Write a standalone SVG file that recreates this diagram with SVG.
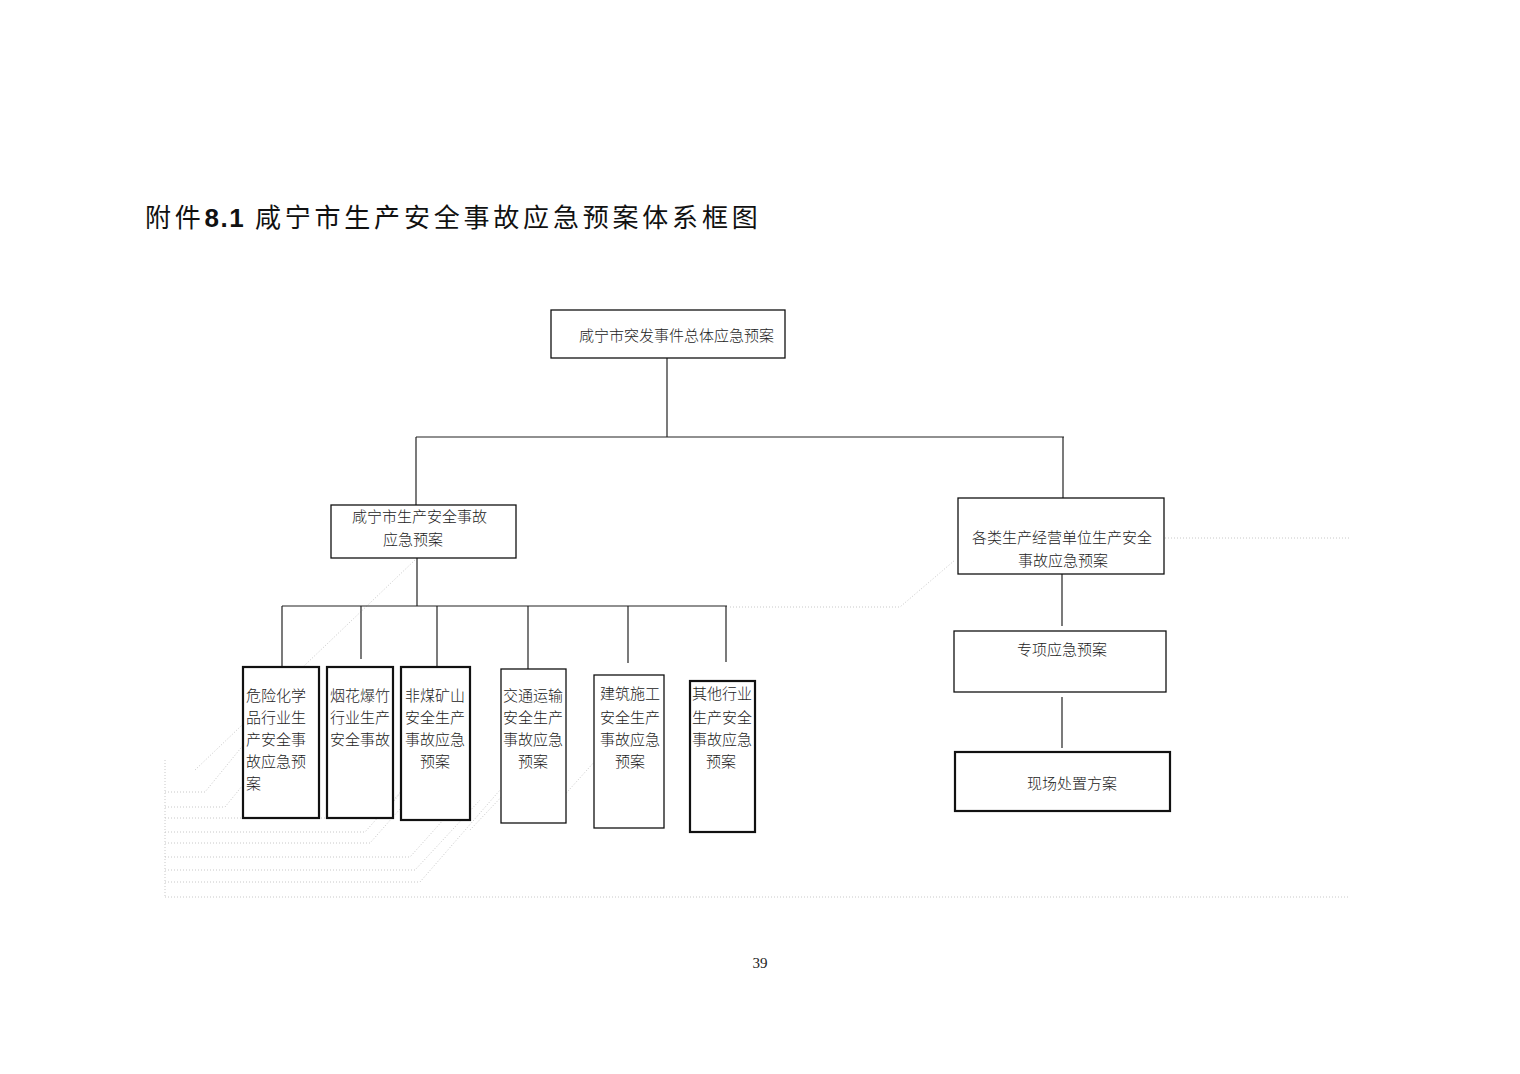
<svg xmlns="http://www.w3.org/2000/svg" width="1520" height="1074" viewBox="0 0 1520 1074">
<style>
  .bg { fill: #ffffff; }
  .box { fill: #ffffff; stroke: #111111; stroke-width: 1.3; }
  .boxb { fill: #ffffff; stroke: #111111; stroke-width: 2.2; }
  .conn { fill: none; stroke: #222222; stroke-width: 1.2; }
  .ghost { fill: none; stroke: #c8c8c8; stroke-width: 1; stroke-dasharray: 1 2; }
  .t { font-family: "Noto Sans CJK SC", "Liberation Serif", serif; font-size: 15px; font-weight: 300; fill: #222222; }
  .title { font-family: "Noto Sans CJK SC", "Liberation Sans", sans-serif; font-size: 26px; font-weight: 400; fill: #111111; letter-spacing: 3.8px; }
  .pg { font-family: "Liberation Serif", serif; font-size: 15px; fill: #222222; }
</style>
<rect class="bg" x="0" y="0" width="1520" height="1074"/>

<text class="title" x="145" y="227">附件<tspan font-family="Liberation Sans, sans-serif" font-weight="bold" letter-spacing="1.5">8.1</tspan> 咸宁市生产安全事故应急预案体系框图</text>

<g id="scan-artifacts">
  <polyline class="ghost" points="165,792 205,792 280,700"/>
  <polyline class="ghost" points="165,807 225,807 300,715"/>
  <polyline class="ghost" points="165,818 380,818 440,745"/>
  <polyline class="ghost" points="165,832 365,832 420,770"/>
  <polyline class="ghost" points="165,843 370,843 430,775"/>
  <polyline class="ghost" points="165,857 410,857 470,790"/>
  <polyline class="ghost" points="165,870 415,870 480,800"/>
  <polyline class="ghost" points="165,882 420,882 500,790"/>
  <line class="ghost" x1="165" y1="897" x2="1350" y2="897"/>
  <line class="ghost" x1="165" y1="760" x2="165" y2="897"/>
  <line class="ghost" x1="195" y1="770" x2="415" y2="560"/>
  <polyline class="ghost" points="730,607 900,607 955,560"/>
  <line class="ghost" x1="1165" y1="538" x2="1350" y2="538"/>
  <line class="ghost" x1="470" y1="830" x2="560" y2="735"/>
  <line class="ghost" x1="560" y1="800" x2="650" y2="700"/>
</g>

<g id="connectors">
  <line class="conn" x1="667" y1="358" x2="667" y2="437"/>
  <line class="conn" x1="416" y1="437" x2="1064" y2="437"/>
  <line class="conn" x1="416" y1="437" x2="416" y2="505"/>
  <line class="conn" x1="1063" y1="437" x2="1063" y2="498"/>
  <line class="conn" x1="417" y1="558" x2="417" y2="606"/>
  <line class="conn" x1="282" y1="606" x2="727" y2="606"/>
  <line class="conn" x1="282" y1="606" x2="282" y2="667"/>
  <line class="conn" x1="361" y1="606" x2="361" y2="659"/>
  <line class="conn" x1="437" y1="606" x2="437" y2="666"/>
  <line class="conn" x1="528" y1="606" x2="528" y2="669"/>
  <line class="conn" x1="628" y1="606" x2="628" y2="663"/>
  <line class="conn" x1="726" y1="606" x2="726" y2="662"/>
  <line class="conn" x1="1062" y1="574" x2="1062" y2="626"/>
  <line class="conn" x1="1062" y1="697" x2="1062" y2="748"/>
</g>

<g id="n-top">
  <rect class="box" x="551" y="310" width="234" height="48"/>
  <text class="t" x="579" y="341">咸宁市突发事件总体应急预案</text>
</g>

<g id="n-city">
  <rect class="box" x="331" y="505" width="185" height="53"/>
  <text class="t" x="352" y="522">咸宁市生产安全事故</text>
  <text class="t" x="383" y="545">应急预案</text>
</g>

<g id="n-units">
  <rect class="box" x="958" y="498" width="206" height="76"/>
  <text class="t" x="972" y="543">各类生产经营单位生产安全</text>
  <text class="t" x="1018" y="566">事故应急预案</text>
</g>

<g id="n-special">
  <rect class="box" x="954" y="631" width="212" height="61"/>
  <text class="t" x="1017" y="655">专项应急预案</text>
</g>

<g id="n-site">
  <rect class="boxb" x="955" y="752" width="215" height="59"/>
  <text class="t" x="1027" y="789">现场处置方案</text>
</g>

<g id="n-chem">
  <rect class="boxb" x="243" y="667" width="76" height="151"/>
  <text class="t" x="246" y="701">危险化学</text>
  <text class="t" x="246" y="723">品行业生</text>
  <text class="t" x="246" y="745">产安全事</text>
  <text class="t" x="246" y="767">故应急预</text>
  <text class="t" x="246" y="789">案</text>
</g>

<g id="n-fireworks">
  <rect class="boxb" x="327" y="667" width="66" height="151"/>
  <text class="t" x="330" y="701">烟花爆竹</text>
  <text class="t" x="330" y="723">行业生产</text>
  <text class="t" x="330" y="745">安全事故</text>
</g>

<g id="n-mine">
  <rect class="boxb" x="401" y="667" width="69" height="153"/>
  <text class="t" x="405" y="701">非煤矿山</text>
  <text class="t" x="405" y="723">安全生产</text>
  <text class="t" x="405" y="745">事故应急</text>
  <text class="t" x="420" y="767">预案</text>
</g>

<g id="n-traffic">
  <rect class="box" x="501" y="669" width="65" height="154"/>
  <text class="t" x="503" y="701">交通运输</text>
  <text class="t" x="503" y="723">安全生产</text>
  <text class="t" x="503" y="745">事故应急</text>
  <text class="t" x="518" y="767">预案</text>
</g>

<g id="n-building">
  <rect class="box" x="594" y="675" width="70" height="153"/>
  <text class="t" x="600" y="699">建筑施工</text>
  <text class="t" x="600" y="723">安全生产</text>
  <text class="t" x="600" y="745">事故应急</text>
  <text class="t" x="615" y="767">预案</text>
</g>

<g id="n-other">
  <rect class="boxb" x="690" y="681" width="65" height="151"/>
  <text class="t" x="692" y="699">其他行业</text>
  <text class="t" x="692" y="723">生产安全</text>
  <text class="t" x="692" y="745">事故应急</text>
  <text class="t" x="706" y="767">预案</text>
</g>

<text class="pg" x="760" y="968" text-anchor="middle">39</text>
</svg>
